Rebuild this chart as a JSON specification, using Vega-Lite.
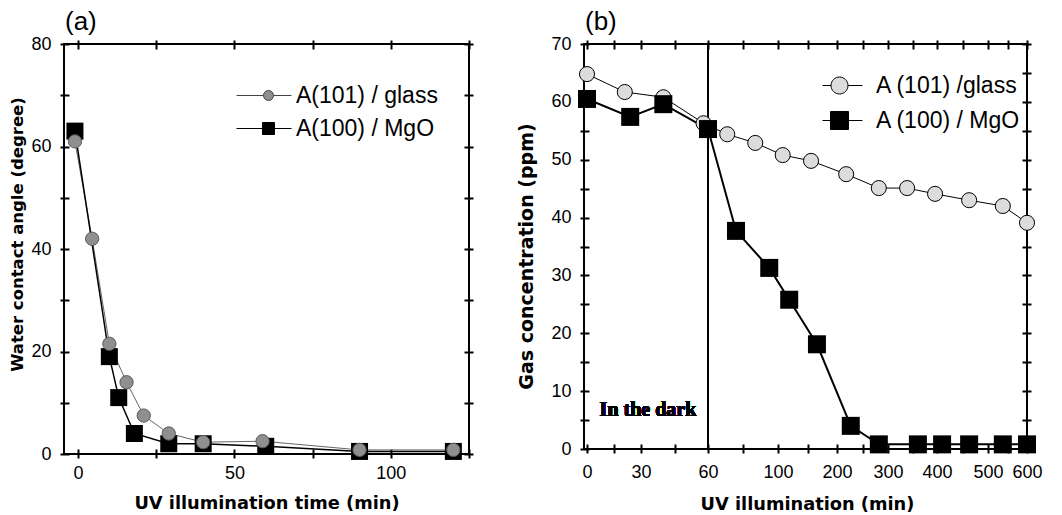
{
  "$schema": "https://vega.github.io/schema/vega-lite/v6.json",
  "background": "white",
  "padding": {"left": 8, "top": 8, "right": 5, "bottom": 2},
  "spacing": 41,
  "config": {
    "view": {"stroke": "black", "strokeWidth": 2},
    "axis": {"domain": false, "grid": false, "labelFont": "Liberation Sans", "labelFontSize": 18, "labelColor": "black", "titleFont": "DejaVu Sans", "titleFontWeight": "bold", "titleColor": "black", "labelFlush": false, "labelOverlap": false},
    "legend": {"padding": 0, "labelFont": "Liberation Sans", "labelColor": "black", "labelFontSize": 23, "symbolStrokeColor": "black", "symbolStrokeWidth": 1, "orient": "none"}
  },
  "datasets": {
    "left": [
      {"t": -1, "v": 61, "s": "A(101) / glass"},
      {"t": 4.5, "v": 42, "s": "A(101) / glass"},
      {"t": 10, "v": 21.5, "s": "A(101) / glass"},
      {"t": 15.5, "v": 14, "s": "A(101) / glass"},
      {"t": 21, "v": 7.5, "s": "A(101) / glass"},
      {"t": 29, "v": 4, "s": "A(101) / glass"},
      {"t": 40, "v": 2.3, "s": "A(101) / glass"},
      {"t": 59, "v": 2.5, "s": "A(101) / glass"},
      {"t": 90, "v": 0.8, "s": "A(101) / glass"},
      {"t": 120, "v": 0.8, "s": "A(101) / glass"},
      {"t": -1, "v": 63, "s": "A(100) / MgO"},
      {"t": 10, "v": 19, "s": "A(100) / MgO"},
      {"t": 13, "v": 11, "s": "A(100) / MgO"},
      {"t": 18, "v": 4, "s": "A(100) / MgO"},
      {"t": 29, "v": 2, "s": "A(100) / MgO"},
      {"t": 40, "v": 2, "s": "A(100) / MgO"},
      {"t": 60, "v": 1.5, "s": "A(100) / MgO"},
      {"t": 90, "v": 0.5, "s": "A(100) / MgO"},
      {"t": 120, "v": 0.5, "s": "A(100) / MgO"}
    ],
    "right": [
      {"t": 0, "v": 64.8, "s": "A (101) /glass"},
      {"t": 21, "v": 61.7, "s": "A (101) /glass"},
      {"t": 40, "v": 60.8, "s": "A (101) /glass"},
      {"t": 58, "v": 56.3, "s": "A (101) /glass"},
      {"t": 71, "v": 54.4, "s": "A (101) /glass"},
      {"t": 87, "v": 52.9, "s": "A (101) /glass"},
      {"t": 108, "v": 50.8, "s": "A (101) /glass"},
      {"t": 156, "v": 49.8, "s": "A (101) /glass"},
      {"t": 218, "v": 47.5, "s": "A (101) /glass"},
      {"t": 282, "v": 45.1, "s": "A (101) /glass"},
      {"t": 339, "v": 45.1, "s": "A (101) /glass"},
      {"t": 396, "v": 44.1, "s": "A (101) /glass"},
      {"t": 463, "v": 43.0, "s": "A (101) /glass"},
      {"t": 538, "v": 42.0, "s": "A (101) /glass"},
      {"t": 600, "v": 39.1, "s": "A (101) /glass"},
      {"t": 0, "v": 60.5, "s": "A (100) / MgO"},
      {"t": 24, "v": 57.4, "s": "A (100) / MgO"},
      {"t": 40, "v": 59.6, "s": "A (100) / MgO"},
      {"t": 60, "v": 55.3, "s": "A (100) / MgO"},
      {"t": 76, "v": 37.7, "s": "A (100) / MgO"},
      {"t": 95, "v": 31.3, "s": "A (100) / MgO"},
      {"t": 119, "v": 25.8, "s": "A (100) / MgO"},
      {"t": 166, "v": 18.1, "s": "A (100) / MgO"},
      {"t": 227, "v": 4.0, "s": "A (100) / MgO"},
      {"t": 282, "v": 0.8, "s": "A (100) / MgO"},
      {"t": 361, "v": 0.8, "s": "A (100) / MgO"},
      {"t": 410, "v": 0.8, "s": "A (100) / MgO"},
      {"t": 463, "v": 0.8, "s": "A (100) / MgO"},
      {"t": 538, "v": 0.8, "s": "A (100) / MgO"},
      {"t": 600, "v": 0.8, "s": "A (100) / MgO"}
    ]
  },
  "resolve": {"scale": {"shape": "independent", "fill": "independent", "stroke": "independent"}},
  "hconcat": [
    {
      "width": 405,
      "height": 410,
      "title": {"text": "(a)", "frame": "group", "anchor": "start", "dx": 1, "offset": 0, "font": "Liberation Sans", "fontSize": 26, "fontWeight": "normal", "color": "black"},
      "data": {"name": "left"},
      "resolve": {"axis": {"x": "independent", "y": "independent"}},
      "layer": [
        {
          "transform": [{"filter": "datum.s === 'A(101) / glass'"}],
          "mark": {"type": "line", "color": "#666666", "strokeWidth": 1},
          "encoding": {
            "x": {"field": "t", "type": "quantitative", "scale": {"domain": [-4.5, 125], "nice": false, "zero": false},
              "axis": {"title": "UV illumination time (min)", "values": [0, 25, 50, 75, 100, 125], "labelExpr": "datum.value % 50 === 0 ? datum.label : ''", "labelPadding": 6, "titlePadding": 12, "titleFontSize": 17.8, "ticks": true, "tickSize": 9, "tickColor": "black", "tickWidth": 2, "tickOpacity": 1, "offset": -5}},
            "y": {"field": "v", "type": "quantitative", "scale": {"domain": [0, 80], "nice": false},
              "axis": {"title": "Water contact angle (degree)", "values": [0, 10, 20, 30, 40, 50, 60, 70, 80], "labelExpr": "datum.value % 20 === 0 ? datum.label : ''", "labelPadding": 9, "titlePadding": 5, "titleFontSize": 16.5, "titleY": 190, "ticks": true, "tickSize": 9, "tickColor": "black", "tickWidth": 2, "tickOpacity": 1, "offset": -5}}
          }
        },
        {
          "transform": [{"filter": "datum.s === 'A(100) / MgO'"}],
          "mark": {"type": "line", "color": "black", "strokeWidth": 1.5},
          "encoding": {
            "x": {"field": "t", "type": "quantitative", "axis": null},
            "y": {"field": "v", "type": "quantitative", "axis": null}
          }
        },
        {
          "transform": [{"filter": "datum.s === 'A(100) / MgO'"}],
          "mark": {"type": "square", "size": 289, "color": "black", "opacity": 1},
          "encoding": {
            "x": {"field": "t", "type": "quantitative", "axis": null},
            "y": {"field": "v", "type": "quantitative", "axis": null}
          }
        },
        {
          "transform": [{"filter": "datum.s === 'A(101) / glass'"}],
          "mark": {"type": "circle", "size": 177, "fill": "#8f8f8f", "stroke": "#5a5a5a", "strokeWidth": 1, "opacity": 1},
          "encoding": {
            "x": {"field": "t", "type": "quantitative", "axis": null},
            "y": {"field": "v", "type": "quantitative", "axis": null}
          }
        },
        {
          "transform": [{"filter": "false"}],
          "mark": {"type": "point", "filled": true, "strokeWidth": 1, "opacity": 1},
          "encoding": {
            "x": {"field": "t", "type": "quantitative", "axis": {"orient": "top", "labels": false, "title": null, "values": [0, 25, 50, 75, 100, 125], "ticks": true, "tickSize": 9, "tickColor": "black", "tickWidth": 2, "tickOpacity": 1, "offset": -5}},
            "y": {"field": "v", "type": "quantitative", "axis": {"orient": "right", "labels": false, "title": null, "values": [0, 10, 20, 30, 40, 50, 60, 70, 80], "ticks": true, "tickSize": 9, "tickColor": "black", "tickWidth": 2, "tickOpacity": 1, "offset": -5}},
            "shape": {"field": "s", "type": "nominal",
              "scale": {"domain": ["A(101) / glass", "A(100) / MgO"], "range": ["M-6.4,0H-1M1,0H4.6M-1,0A1,1 0 1,0 1,0A1,1 0 1,0 -1,0Z", "M-6.4,0H-1.2M1.2,0H4.6M-1.2,-1.2H1.2V1.2H-1.2Z"]},
              "legend": {"title": null, "orient": "none", "legendX": 193, "legendY": 40, "symbolSize": 100, "labelOffset": 16, "rowPadding": 9, "labelFontSize": 23, "symbolStrokeColor": "black"}},
            "fill": {"field": "s", "type": "nominal",
              "scale": {"domain": ["A(101) / glass", "A(100) / MgO"], "range": ["#8f8f8f", "black"]},
              "legend": {"title": null, "orient": "none", "legendX": 193, "legendY": 40, "symbolSize": 100, "labelOffset": 16, "rowPadding": 9, "labelFontSize": 23, "symbolStrokeColor": "black"}},
            "stroke": {"field": "s", "type": "nominal",
              "scale": {"domain": ["A(101) / glass", "A(100) / MgO"], "range": ["#444444", "black"]},
              "legend": {"title": null, "orient": "none", "legendX": 193, "legendY": 40, "symbolSize": 100, "labelOffset": 16, "rowPadding": 9, "labelFontSize": 23, "symbolStrokeColor": "black"}}
          }
        }
      ]
    },
    {
      "width": 443,
      "height": 405,
      "title": {"text": "(b)", "frame": "group", "anchor": "start", "dx": 1, "offset": 0, "font": "Liberation Sans", "fontSize": 26, "fontWeight": "normal", "color": "black"},
      "data": {"name": "right"},
      "resolve": {"axis": {"x": "independent", "y": "independent"}},
      "layer": [
        {
          "transform": [{"filter": "datum.s === 'A (101) /glass'"}],
          "mark": {"type": "line", "color": "black", "strokeWidth": 1},
          "encoding": {
            "x": {"field": "t", "type": "quantitative",
              "scale": {"domain": [0, 30, 60, 100, 200, 300, 400, 500, 600], "range": [3, 57, 124, 194, 253, 304, 353, 404, 443], "nice": false, "zero": false},
              "axis": {"title": "UV illumination (min)", "values": [0, 15, 30, 45, 60, 80, 100, 150, 200, 250, 300, 350, 400, 450, 500, 550, 600], "labelExpr": "indexof([0, 30, 60, 100, 200, 300, 400, 500, 600], datum.value) >= 0 ? datum.label : ''", "labelPadding": 10, "titlePadding": 14, "titleFontSize": 17.8, "ticks": true, "tickSize": 9, "tickColor": "black", "tickWidth": 2, "tickOpacity": 1, "offset": -5}},
            "y": {"field": "v", "type": "quantitative", "scale": {"domain": [0, 70], "nice": false},
              "axis": {"title": "Gas concentration (ppm)", "values": [0, 5, 10, 15, 20, 25, 30, 35, 40, 45, 50, 55, 60, 65, 70], "labelExpr": "datum.value % 10 === 0 ? datum.label : ''", "labelPadding": 9, "titlePadding": 14, "titleFontSize": 19, "titleY": 212, "ticks": true, "tickSize": 9, "tickColor": "black", "tickWidth": 2, "tickOpacity": 1, "offset": -5}}
          }
        },
        {
          "transform": [{"filter": "datum.s === 'A (100) / MgO'"}],
          "mark": {"type": "line", "color": "black", "strokeWidth": 2},
          "encoding": {
            "x": {"field": "t", "type": "quantitative", "axis": null},
            "y": {"field": "v", "type": "quantitative", "axis": null}
          }
        },
        {
          "mark": {"type": "rule", "color": "black", "strokeWidth": 1},
          "encoding": {"x": {"datum": 60, "type": "quantitative", "axis": null}}
        },
        {
          "mark": {"type": "text", "text": "In the dark", "font": "Liberation Serif", "fontSize": 20, "fontWeight": "bold", "align": "left", "baseline": "middle", "color": "black"},
          "encoding": {
            "x": {"datum": 7, "type": "quantitative", "axis": null},
            "y": {"datum": 6.8, "type": "quantitative", "axis": null}
          }
        },
        {
          "transform": [{"filter": "datum.s === 'A (101) /glass'"}],
          "mark": {"type": "circle", "size": 227, "fill": "#dcdcdc", "stroke": "black", "strokeWidth": 1, "opacity": 1},
          "encoding": {
            "x": {"field": "t", "type": "quantitative", "axis": null},
            "y": {"field": "v", "type": "quantitative", "axis": null}
          }
        },
        {
          "transform": [{"filter": "datum.s === 'A (100) / MgO'"}],
          "mark": {"type": "square", "size": 324, "color": "black", "opacity": 1},
          "encoding": {
            "x": {"field": "t", "type": "quantitative", "axis": null},
            "y": {"field": "v", "type": "quantitative", "axis": null}
          }
        },
        {
          "transform": [{"filter": "false"}],
          "mark": {"type": "point", "filled": true, "strokeWidth": 1, "opacity": 1},
          "encoding": {
            "x": {"field": "t", "type": "quantitative", "axis": {"orient": "top", "labels": false, "title": null, "values": [0, 15, 30, 45, 60, 80, 100, 150, 200, 250, 300, 350, 400, 450, 500, 550, 600], "ticks": true, "tickSize": 9, "tickColor": "black", "tickWidth": 2, "tickOpacity": 1, "offset": -5}},
            "y": {"field": "v", "type": "quantitative", "axis": {"orient": "right", "labels": false, "title": null, "values": [0, 5, 10, 15, 20, 25, 30, 35, 40, 45, 50, 55, 60, 65, 70], "ticks": true, "tickSize": 9, "tickColor": "black", "tickWidth": 2, "tickOpacity": 1, "offset": -5}},
            "shape": {"field": "s", "type": "nominal",
              "scale": {"domain": ["A (101) /glass", "A (100) / MgO"], "range": ["M-2,0H-1M1,0H2.7M-1,0A1,1 0 1,0 1,0A1,1 0 1,0 -1,0Z", "M-2,0H-1.06M1.06,0H2.7M-1.06,-1.06H1.06V1.06H-1.06Z"]},
              "legend": {"title": null, "orient": "none", "legendX": 244, "legendY": 30, "symbolSize": 289, "labelOffset": 25, "rowPadding": 11, "labelFontSize": 23, "symbolStrokeColor": "black"}},
            "fill": {"field": "s", "type": "nominal",
              "scale": {"domain": ["A (101) /glass", "A (100) / MgO"], "range": ["#dcdcdc", "black"]},
              "legend": {"title": null, "orient": "none", "legendX": 244, "legendY": 30, "symbolSize": 289, "labelOffset": 25, "rowPadding": 11, "labelFontSize": 23, "symbolStrokeColor": "black"}},
            "stroke": {"field": "s", "type": "nominal",
              "scale": {"domain": ["A (101) /glass", "A (100) / MgO"], "range": ["black", "black"]},
              "legend": {"title": null, "orient": "none", "legendX": 244, "legendY": 30, "symbolSize": 289, "labelOffset": 25, "rowPadding": 11, "labelFontSize": 23, "symbolStrokeColor": "black"}}
          }
        }
      ]
    }
  ]
}
